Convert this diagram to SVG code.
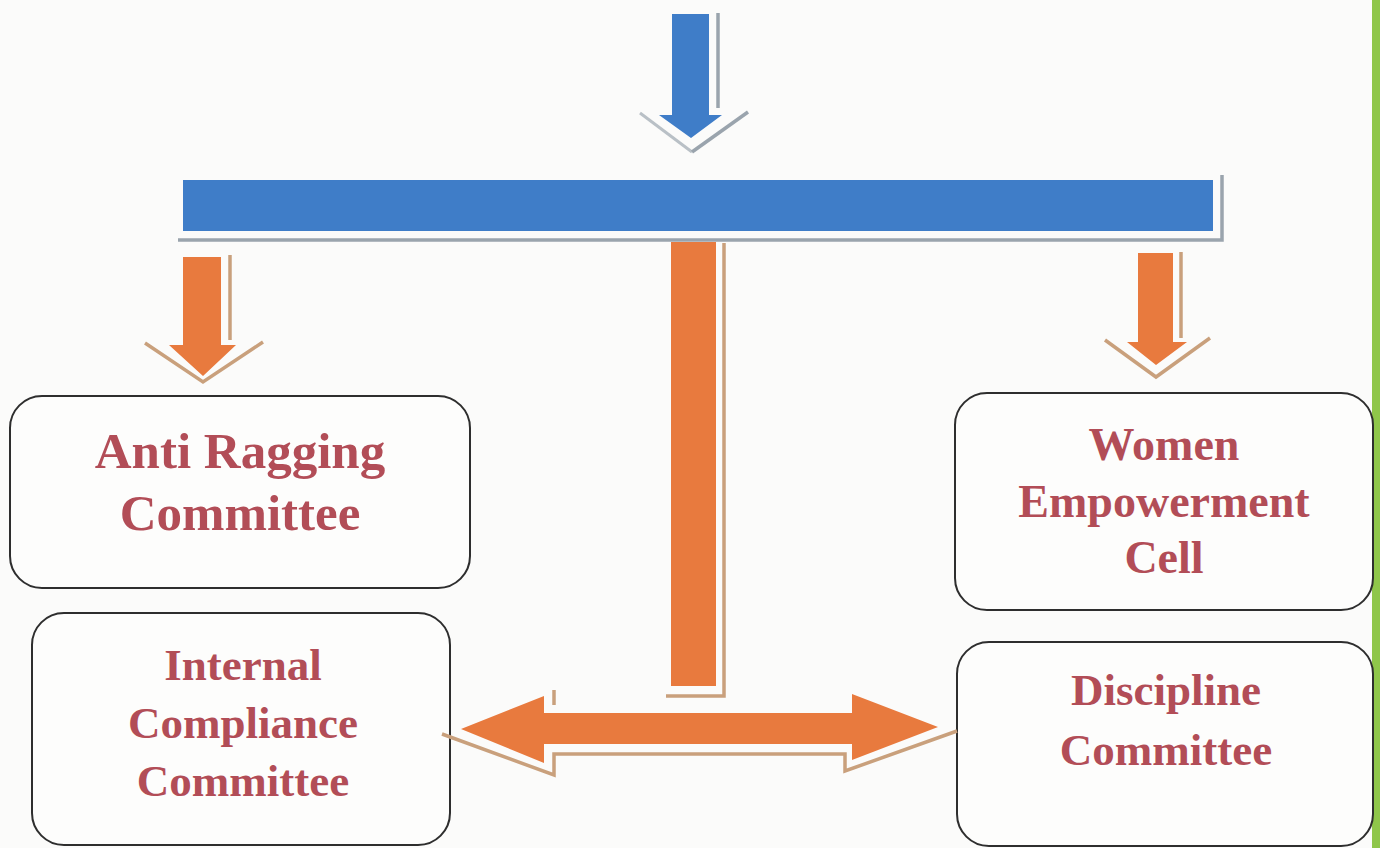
<svg xmlns="http://www.w3.org/2000/svg" width="1380" height="848" viewBox="0 0 1380 848">
  <style>
    .bg { fill: #fbfbfa; }
    .box { fill: #fdfdfc; stroke: #2e2e2e; stroke-width: 2; }
    .lbl { font-family: "Liberation Serif", "Times New Roman", serif; font-weight: bold; fill: #b24d57; text-anchor: middle; }
    .blue { fill: #3f7dc8; }
    .orange { fill: #e87a3e; }
    .gsh { fill: none; stroke: #9aa4ad; stroke-width: 3.5; }
    .gsh-l { fill: none; stroke: #b9c0c6; stroke-width: 3; }
    .tsh { fill: none; stroke: #c9a07c; stroke-width: 3.5; }
  </style>
  <rect class="bg" x="0" y="0" width="1380" height="848"/>
  <rect x="1372" y="0" width="8" height="848" fill="#8fc64a"/>

  <g id="node-anti-ragging">
    <rect class="box" x="10" y="396" width="460" height="192" rx="32"/>
    <text class="lbl" x="240" y="468" font-size="51">Anti Ragging</text>
    <text class="lbl" x="240" y="530" font-size="51">Committee</text>
  </g>

  <g id="node-women">
    <rect class="box" x="955" y="393" width="418" height="217" rx="32"/>
    <text class="lbl" x="1164" y="460" font-size="46">Women</text>
    <text class="lbl" x="1164" y="517" font-size="46">Empowerment</text>
    <text class="lbl" x="1164" y="573" font-size="46">Cell</text>
  </g>

  <g id="node-internal">
    <rect class="box" x="32" y="613" width="418" height="232" rx="32"/>
    <text class="lbl" x="243" y="680" font-size="45">Internal</text>
    <text class="lbl" x="243" y="738" font-size="45">Compliance</text>
    <text class="lbl" x="243" y="796" font-size="45">Committee</text>
  </g>

  <g id="node-discipline">
    <rect class="box" x="957" y="642" width="416" height="204" rx="32"/>
    <text class="lbl" x="1166" y="705" font-size="45">Discipline</text>
    <text class="lbl" x="1166" y="765" font-size="45">Committee</text>
  </g>

  <g id="connectors">
    <g id="top-arrow">
      <polygon class="blue" points="672,14 709,14 709,115 722,115 691,138 659,115 672,115"/>
      <line class="gsh" x1="718" y1="13" x2="718" y2="108"/>
      <polyline class="gsh-l" points="640,113 692,152"/>
      <polyline class="gsh" points="692,152 748,112"/>
    </g>
    <g id="blue-bar">
      <rect class="blue" x="183" y="180" width="1030" height="51"/>
      <path class="gsh" d="M178,240 H1222 V175"/>
    </g>
    <g id="arrow-left">
      <polygon class="orange" points="183,257 221,257 221,345 236,345 203,376 169,345 183,345"/>
      <line class="tsh" x1="230" y1="255" x2="230" y2="340"/>
      <polyline class="tsh" points="145,343 203,382 263,342"/>
    </g>
    <g id="arrow-right">
      <polygon class="orange" points="1138,253 1173,253 1173,342 1187,342 1156,365 1127,342 1138,342"/>
      <line class="tsh" x1="1181" y1="252" x2="1181" y2="338"/>
      <polyline class="tsh" points="1105,340 1156,377 1210,338"/>
    </g>
    <g id="center-bar">
      <rect class="orange" x="671" y="242" width="45" height="444"/>
      <path class="tsh" d="M724,243 V696 H666"/>
    </g>
    <g id="double-arrow">
      <polygon class="orange" points="461,729 544,696 544,713 852,713 852,694 938,727 852,760 852,744 544,744 544,763"/>
      <path class="tsh" d="M442,734 L554,775 V754 H845 V771 L957,731"/>
      <line class="tsh" x1="554" y1="690" x2="554" y2="705"/>
    </g>
  </g>
</svg>
